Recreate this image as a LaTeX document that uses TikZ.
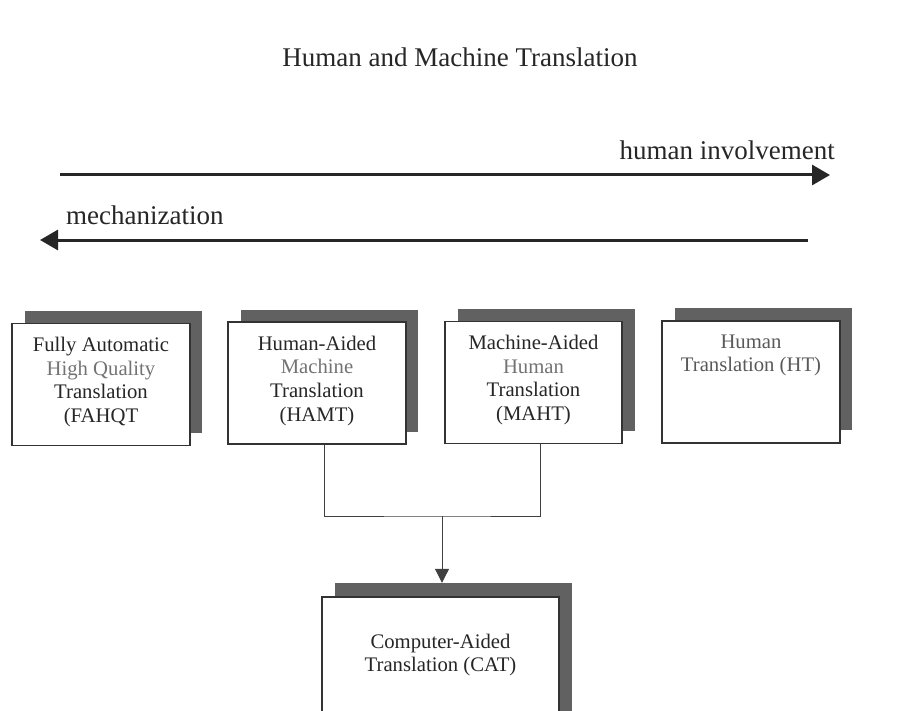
\documentclass[tikz,border=0pt]{standalone}
\usepackage{fontspec}
\setmainfont{Liberation Serif}
\usetikzlibrary{arrows.meta}
\begin{document}
\begin{tikzpicture}[x=1pt,y=-1pt,
  frontbox/.style={draw=black!80, line width=1.1pt, fill=white, minimum width=178pt, minimum height=122pt, inner sep=0pt},
  shadowbox/.style={fill=black!62, minimum width=177pt, minimum height=122pt, inner sep=0pt},
  boxtext/.style={anchor=north, align=center, font=\fontsize{20.7}{23.7}\selectfont, text=black!85, inner sep=0pt},
  biglabel/.style={font=\fontsize{27}{31}\selectfont, text=black!85, inner sep=0pt},
  bigarrow/.style={line width=3pt, draw=black!85, -{Triangle[width=20pt,length=18pt]}},
  link/.style={line width=1pt, draw=black!75}]
\clip (0,0) rectangle (901,711);
\fill[white] (0,0) rectangle (901,711);

% title
\node[biglabel, anchor=base] (title) at (460,67) {Human and Machine Translation};

% direction arrows
\coordinate (h1) at (60,175);
\coordinate (h2) at (830,175);
\coordinate (m1) at (808,240);
\coordinate (m2) at (40,240);
\draw[bigarrow] (h1) -- (h2);
\draw[bigarrow] (m1) -- (m2);
\node[biglabel, anchor=base east] (hl) at (835,160) {human involvement};
\node[biglabel, anchor=base west] (ml) at (66,225) {mechanization};

% shadows
\node[shadowbox] (s1) at (113,372) {};
\node[shadowbox] (s2) at (329,371) {};
\node[shadowbox] (s3) at (546,370) {};
\node[shadowbox] (s4) at (763,369) {};
\node[shadowbox, minimum width=237pt, minimum height=160pt] (s5) at (453.5,663) {};

% front boxes
\node[frontbox] (b1) at (101,384.5) {};
\node[frontbox] (b2) at (317,383) {};
\node[frontbox, minimum width=177pt] (b3) at (533.5,382.5) {};
\node[frontbox] (b4) at (751,382) {};
\node[frontbox, minimum width=237pt, minimum height=160pt] (b5) at (440.5,677) {};

% texts
\node[boxtext] (t1) at ([yshift=-14pt]b1.north) {Fully Automatic\\ \textcolor{black!55}{High Quality}\\ Translation\\ (FAHQT};
\node[boxtext] (t2) at ([yshift=-14pt]b2.north) {Human-Aided\\ \textcolor{black!55}{Machine}\\ Translation\\ (HAMT)};
\node[boxtext] (t3) at ([yshift=-14pt]b3.north) {Machine-Aided\\ \textcolor{black!55}{Human}\\ Translation\\ (MAHT)};
\node[boxtext, text=black!65] (t4) at ([yshift=-14pt]b4.north) {Human\\ Translation (HT)};
\node[boxtext] (t5) at ([yshift=-37pt]b5.north) {Computer-Aided\\ Translation (CAT)};

% connectors
\coordinate (j) at (442,516);
\draw[link] ([xshift=7pt]b2.south) |- (j) -| ([xshift=7pt]b3.south);
\draw[link, -{Triangle[width=14pt,length=14pt]}] (j) -- (j |- s5.north);
\end{tikzpicture}
\end{document}
